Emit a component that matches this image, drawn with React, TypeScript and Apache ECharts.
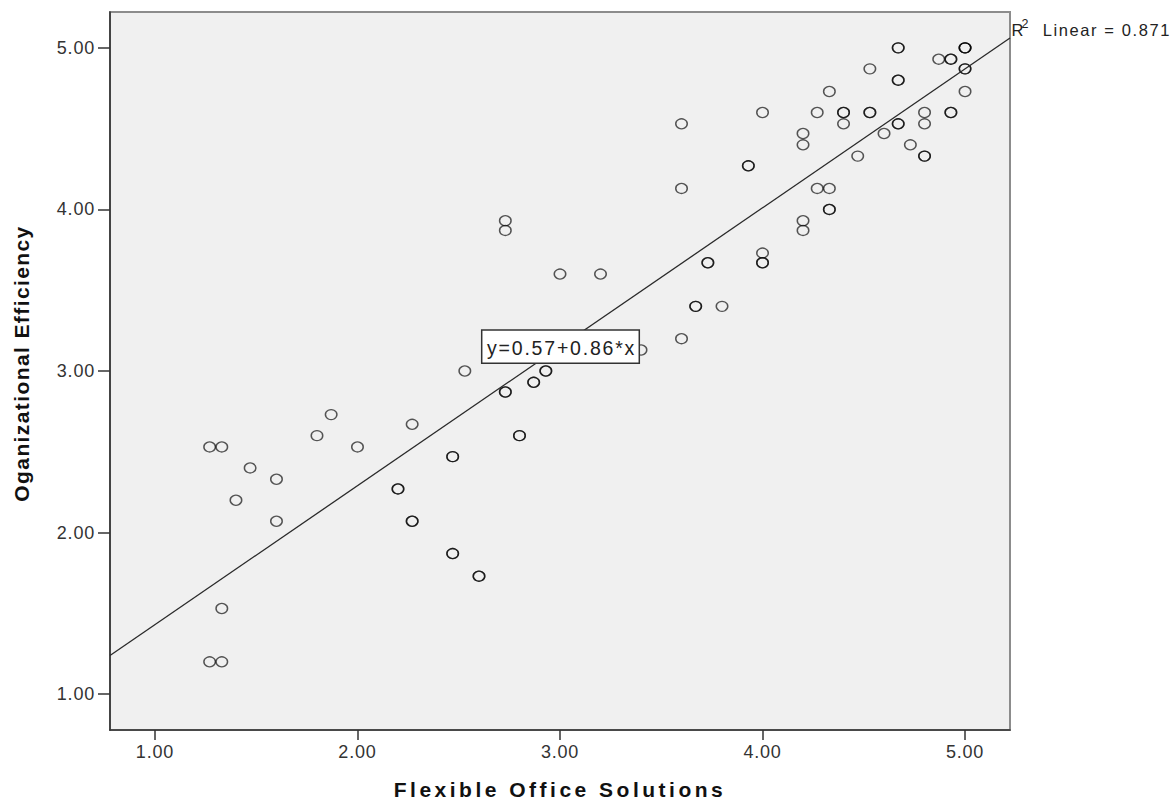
import React, { useEffect, useRef } from "react";
import * as echarts from "echarts";

// ---------- data ----------
const X_TITLE = "Flexible Office Solutions";
const Y_TITLE = "Oganizational Efficiency";
const AXIS_MIN = 0.778;
const AXIS_MAX = 5.222;
const TICKS = [1, 2, 3, 4, 5];
const INTERCEPT = 0.57;
const SLOPE = 0.86;
const R2 = 0.871;

// Flexible Office Solutions (x) and Organizational Efficiency (y); repeated pairs are overlapping cases
const X_VALUES = [
  1.27, 1.33, 1.47, 1.4, 1.6, 1.6, 1.33, 1.27, 1.33, 1.8, 1.87, 2.0, 2.27,
  2.2, 2.2, 2.27, 2.27, 2.47, 2.47, 2.47, 2.47, 2.6, 2.6, 2.53,
  2.73, 2.73, 2.8, 2.8, 2.87, 2.87, 2.93, 2.93, 2.73, 2.73, 3.0, 3.2, 3.4,
  3.6, 3.6, 3.6, 3.73, 3.73, 3.67, 3.67, 3.8, 3.93, 3.93, 4.0, 4.0, 4.0, 4.0,
  4.2, 4.2, 4.2, 4.2, 4.27, 4.27, 4.33, 4.33, 4.33, 4.33, 4.4, 4.4, 4.4, 4.47,
  4.53, 4.53, 4.53, 4.6, 4.67, 4.67, 4.67, 4.67, 4.67, 4.67, 4.73, 4.8, 4.8,
  4.8, 4.8, 4.87, 4.93, 4.93, 4.93, 4.93, 5.0, 5.0, 5.0, 5.0, 5.0, 5.0,
];
const Y_VALUES = [
  2.53, 2.53, 2.4, 2.2, 2.33, 2.07, 1.53, 1.2, 1.2, 2.6, 2.73, 2.53, 2.67,
  2.27, 2.27, 2.07, 2.07, 2.47, 2.47, 1.87, 1.87, 1.73, 1.73, 3.0,
  2.87, 2.87, 2.6, 2.6, 2.93, 2.93, 3.0, 3.0, 3.93, 3.87, 3.6, 3.6, 3.13,
  3.2, 4.53, 4.13, 3.67, 3.67, 3.4, 3.4, 3.4, 4.27, 4.27, 4.6, 3.73, 3.67, 3.67,
  4.47, 4.4, 3.93, 3.87, 4.6, 4.13, 4.73, 4.13, 4.0, 4.0, 4.6, 4.6, 4.53, 4.33,
  4.87, 4.6, 4.6, 4.47, 5.0, 5.0, 4.8, 4.8, 4.53, 4.53, 4.4, 4.6, 4.53,
  4.33, 4.33, 4.93, 4.93, 4.93, 4.6, 4.6, 5.0, 5.0, 5.0, 4.87, 4.87, 4.73,
];

const FONT = '"Liberation Sans", Arial, Helvetica, sans-serif';
const EQUATION = `y=${INTERCEPT.toFixed(2)}+${SLOPE.toFixed(2)}*x`;
const R2_TEXT = `Linear = ${R2}`;

const SPACING: Record<string, number> = {
  [X_TITLE]: 3.5,
  [Y_TITLE]: 1.4,
  [EQUATION]: 1.8,
  [R2_TEXT]: 1.6,
};

export default function App() {
  const ref = useRef<HTMLDivElement>(null);

  useEffect(() => {
    document.body.style.margin = "0";
    const el = ref.current!;
    const chart = echarts.init(el, null, { renderer: "svg" });

    const scatterData = X_VALUES.map((x, i) => [x, Y_VALUES[i]]);
    const lineData = [
      [AXIS_MIN, INTERCEPT + SLOPE * AXIS_MIN],
      [AXIS_MAX, INTERCEPT + SLOPE * AXIS_MAX],
    ];
    const fmt = (v: number) => v.toFixed(2);

    chart.setOption({
      animation: false,
      grid: {
        left: 110,
        right: 164,
        top: 12,
        bottom: 74,
        outerBoundsMode: "none",
        containLabel: false,
        show: true,
        backgroundColor: "#f0f0f0",
        borderColor: "#8c8c8c",
        borderWidth: 2,
      },
      xAxis: {
        type: "value",
        min: AXIS_MIN,
        max: AXIS_MAX,
        name: X_TITLE,
        nameLocation: "middle",
        nameGap: 49,
        nameTextStyle: { fontFamily: FONT, fontSize: 21, fontWeight: "bold", color: "#111" },
        axisLine: { show: true, onZero: false, lineStyle: { color: "#333", width: 1.6 } },
        axisTick: { show: true, length: 10, customValues: TICKS, lineStyle: { color: "#333", width: 1.5 } },
        axisLabel: { customValues: TICKS, formatter: fmt, margin: 13, fontFamily: FONT, fontSize: 18, color: "#333" },
        splitLine: { show: false },
      },
      yAxis: {
        type: "value",
        min: AXIS_MIN,
        max: AXIS_MAX,
        name: Y_TITLE,
        nameLocation: "middle",
        nameGap: 78,
        nameTextStyle: { fontFamily: FONT, fontSize: 21, fontWeight: "bold", color: "#111", padding: [0, 0, 0, 15] },
        axisLine: { show: true, onZero: false, lineStyle: { color: "#333", width: 1.6 } },
        axisTick: { show: true, length: 12, customValues: TICKS, lineStyle: { color: "#333", width: 1.5 } },
        axisLabel: { customValues: TICKS, formatter: fmt, margin: 15, fontFamily: FONT, fontSize: 18, color: "#333" },
        splitLine: { show: false },
      },
      series: [
        {
          type: "scatter",
          data: scatterData,
          symbol: "circle",
          symbolSize: [11.5, 10],
          silent: true,
          itemStyle: { color: "rgba(0,0,0,0)", borderColor: "rgba(0,0,0,0.82)", borderWidth: 1.4 },
          z: 2,
        },
        {
          type: "line",
          data: lineData,
          symbol: "none",
          silent: true,
          lineStyle: { color: "#2a2a2a", width: 1.3 },
          z: 3,
        },
      ],
      graphic: [
        {
          type: "rect",
          z: 100,
          shape: { x: 481.7, y: 330, width: 157.6, height: 33.3 },
          style: { fill: "#ffffff", stroke: "#333", lineWidth: 1.5 },
        },
        {
          type: "text",
          z: 101,
          x: 487,
          y: 348,
          style: { text: EQUATION, fontFamily: FONT, fontSize: 19.5, fill: "#222", verticalAlign: "middle", align: "left" },
        },
        {
          type: "text",
          z: 101,
          x: 1011.5,
          y: 29.5,
          style: { text: "R", fontFamily: FONT, fontSize: 16.5, fill: "#222", verticalAlign: "middle", align: "left" },
        },
        {
          type: "text",
          z: 101,
          x: 1021.5,
          y: 24,
          style: { text: "2", fontFamily: FONT, fontSize: 12.5, fill: "#222", verticalAlign: "middle", align: "left" },
        },
        {
          type: "text",
          z: 101,
          x: 1042.7,
          y: 29.5,
          style: { text: R2_TEXT, fontFamily: FONT, fontSize: 16.5, fill: "#222", verticalAlign: "middle", align: "left" },
        },
      ],
    });

    const applySpacing = () => {
      el.querySelectorAll("text").forEach((t) => {
        const s = (t.textContent || "").trim();
        let ls = 0;
        if (SPACING[s] !== undefined) ls = SPACING[s];
        else if (/^\d\.\d\d$/.test(s)) ls = 0.8;
        t.setAttribute("letter-spacing", String(ls));
      });
    };
    applySpacing();
    chart.on("finished", applySpacing);
    const raf = requestAnimationFrame(applySpacing);

    return () => {
      cancelAnimationFrame(raf);
      chart.dispose();
    };
  }, []);

  return (
    <div
      ref={ref}
      style={{ position: "absolute", left: 0, top: 0, width: 1174, height: 804, background: "#fff" }}
    />
  );
}
